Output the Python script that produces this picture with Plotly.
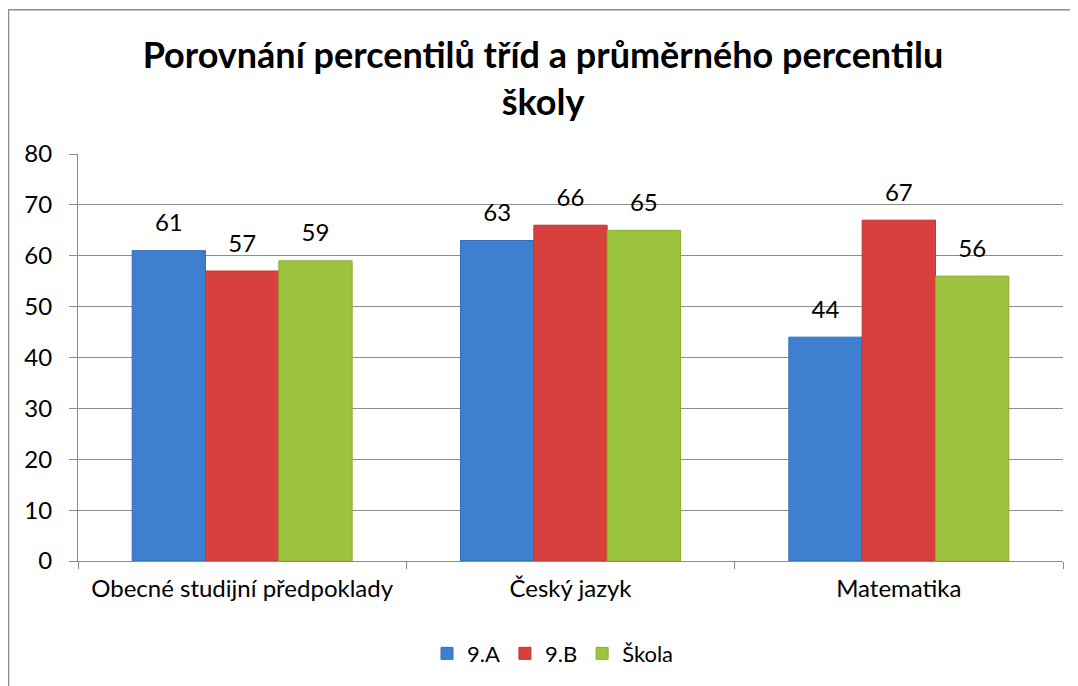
import plotly.graph_objects as go

categories = ["Obecné studijní předpoklady", "Český jazyk", "Matematika"]
series_names = ["9.A", "9.B", "Škola"]
vals_9a = [61, 63, 44]
vals_9b = [57, 66, 67]
vals_skola = [59, 65, 56]
colors = ["#3E7FD0", "#D8403D", "#9DC43F"]
line_colors = ["#3470BC", "#C23733", "#8AAE35"]
y_ticks = [0, 10, 20, 30, 40, 50, 60, 70, 80]

FONT = "Lato, 'Open Sans', sans-serif"

fig = go.Figure()
for name, vals, c, lc in zip(series_names, [vals_9a, vals_9b, vals_skola], colors, line_colors):
    fig.add_trace(go.Bar(
        x=categories, y=vals, name=name,
        marker=dict(color=c, line=dict(color=lc, width=1)),
        cliponaxis=False,
    ))
for name, vals in zip(series_names, [vals_9a, vals_9b, vals_skola]):
    fig.add_trace(go.Scatter(
        x=categories, y=vals, name=name + " labels", showlegend=False,
        mode="markers+text", text=[str(v) for v in vals],
        textposition="top center",
        textfont=dict(size=24, color="black", family=FONT),
        marker=dict(size=20, color="rgba(0,0,0,0)"),
        cliponaxis=False, hoverinfo="skip",
    ))

W, H = 1070, 678
L, R, T, B = 70, 15, 146, 123
pw, ph = W - L - R, H - T - B

def px_x(p):
    return (p - L) / pw

def px_y(p):
    return (H - B - p) / ph

fig.update_layout(
    width=W, height=H,
    margin=dict(l=L, r=R, t=T, b=B),
    paper_bgcolor="white", plot_bgcolor="white",
    barmode="group", bargap=0.33, bargroupgap=0,
    scattermode="group", scattergap=0.33,
    font=dict(family=FONT, size=22, color="black"),
    title=dict(
        text="<b>Porovnání percentilů tříd a průměrného percentilu<br>školy</b>",
        x=0.5, xanchor="center", y=1 - 60 / H, yanchor="middle",
        font=dict(size=36, family=FONT, color="black"),
    ),
    legend=dict(
        orientation="h", x=px_x(545), xanchor="center", y=px_y(648), yanchor="middle",
        font=dict(size=22, family=FONT), itemwidth=30, traceorder="normal",
    ),
    xaxis=dict(
        showline=True, linecolor="#8C8C8C", linewidth=1,
        ticks="outside", ticklen=7, tickcolor="#8C8C8C",
        tickson="boundaries", ticklabelstandoff=6,
        tickfont=dict(size=24, family=FONT), showgrid=False,
    ),
    yaxis=dict(
        range=[0, 80], tickvals=y_ticks,
        showline=True, linecolor="#8C8C8C", linewidth=1,
        ticks="outside", ticklen=8, tickcolor="#8C8C8C",
        ticklabelstandoff=12,
        showgrid=True, gridcolor="#8C8C8C", gridwidth=1,
        tickfont=dict(size=24, family=FONT), zeroline=False,
    ),
    shapes=[dict(
        type="rect", xref="paper", yref="paper",
        x0=px_x(0.5), x1=px_x(W + 20), y0=px_y(H + 20), y1=px_y(1),
        line=dict(color="#8C8C8C", width=1.5), fillcolor="rgba(0,0,0,0)",
    )],
)

fig.write_html("out.html")
